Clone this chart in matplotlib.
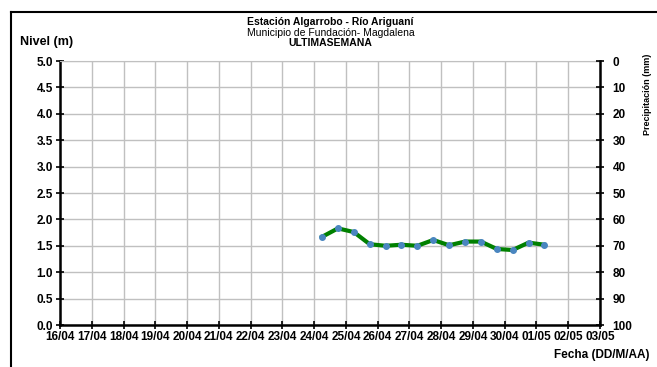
import matplotlib.pyplot as plt
import matplotlib.dates as mdates
from matplotlib.lines import Line2D
from datetime import datetime, timedelta

plt.rcParams['font.family'] = ['Liberation Sans', 'DejaVu Sans']

# Level readings every 12 hours (m)
times = ['2014-04-24 06:00', '2014-04-24 18:00', '2014-04-25 06:00', '2014-04-25 18:00',
         '2014-04-26 06:00', '2014-04-26 18:00', '2014-04-27 06:00', '2014-04-27 18:00',
         '2014-04-28 06:00', '2014-04-28 18:00', '2014-04-29 06:00', '2014-04-29 18:00',
         '2014-04-30 06:00', '2014-04-30 18:00', '2014-05-01 06:00']
nivel = [1.67, 1.83, 1.76, 1.53, 1.50, 1.52, 1.50, 1.61, 1.51, 1.58, 1.58, 1.44, 1.42, 1.56, 1.52]

start_day = '2014-04-16'
end_day = '2014-05-03'
nivel_ticks = [0.0, 0.5, 1.0, 1.5, 2.0, 2.5, 3.0, 3.5, 4.0, 4.5, 5.0]
precip_ticks = [0, 10, 20, 30, 40, 50, 60, 70, 80, 90, 100]

x = [datetime.strptime(t, '%Y-%m-%d %H:%M') for t in times]
d0 = datetime.strptime(start_day, '%Y-%m-%d')
d1 = datetime.strptime(end_day, '%Y-%m-%d')
days = [d0 + timedelta(days=i) for i in range((d1 - d0).days + 1)]

fig = plt.figure(figsize=(6.57, 3.67), dpi=100)
ax = fig.add_axes([60 / 657, 1 - 325 / 367, 540 / 657, 264 / 367])

ax.plot(x, nivel, color='#008000', lw=3, zorder=3)
ax.plot(x, nivel, 'o', color='#4a86c0', ms=4, zorder=4)

ax.set_xlim(d0, d1)
ax.set_ylim(0, 5)
ax.set_xticks(days)
ax.xaxis.set_major_formatter(mdates.DateFormatter('%d/%m'))
ax.set_yticks(nivel_ticks)
ax.set_yticklabels([f'{v:.1f}' for v in nivel_ticks])
ax.grid(True, color='#c0c0c0', lw=1)
ax.set_axisbelow(True)

ax.spines['right'].set_visible(False)
ax.spines['top'].set_color('#c0c0c0')
ax.spines['left'].set_linewidth(1.8)
ax.spines['bottom'].set_linewidth(1.8)
ax.tick_params(direction='inout', length=6, width=1.2, labelsize=8.5)
ax.tick_params(axis='x', pad=1)
ax.tick_params(axis='y', pad=2)
for lbl in ax.get_xticklabels() + ax.get_yticklabels():
    lbl.set_fontweight('bold')

ax2 = ax.twinx()
ax2.set_ylim(100, 0)
ax2.set_yticks(precip_ticks)
for s in ['top', 'left', 'bottom']:
    ax2.spines[s].set_visible(False)
ax2.spines['right'].set_linewidth(1.8)
ax2.tick_params(direction='inout', length=6, width=1.2, labelsize=8.5, pad=6)
for lbl in ax2.get_yticklabels():
    lbl.set_fontweight('bold')

fig.text(0.503, 1 - 22 / 367, 'Estación Algarrobo - Río Ariguaní', ha='center', va='center',
         fontsize=7.5, fontweight='bold')
fig.text(0.503, 1 - 33 / 367, 'Municipio de Fundación- Magdalena', ha='center', va='center',
         fontsize=7.5)
fig.text(0.503, 1 - 43.5 / 367, 'ULTIMASEMANA', ha='center', va='center',
         fontsize=7.5, fontweight='bold')
fig.text(20 / 657, 1 - 42 / 367, 'Nivel (m)', ha='left', va='center', fontsize=9, fontweight='bold')
fig.text(650 / 657, 1 - 355 / 367, 'Fecha (DD/M/AA)', ha='right', va='center',
         fontsize=8.5, fontweight='bold')
fig.text(648 / 657, 1 - 54 / 367, 'Precipitación (mm)', ha='center', va='top', rotation=90,
         fontsize=6.5, fontweight='bold')

# outer frame of the chart area
fig.add_artist(Line2D([11 / 657, 11 / 657], [0, 1 - 12 / 367], color='black', lw=1.5,
                      transform=fig.transFigure))
fig.add_artist(Line2D([11 / 657, 1], [1 - 12 / 367, 1 - 12 / 367], color='black', lw=1.5,
                      transform=fig.transFigure))

fig.savefig('out.png', dpi=100)
